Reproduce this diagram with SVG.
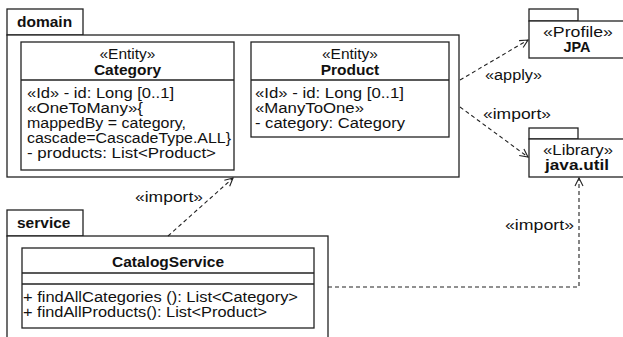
<svg xmlns="http://www.w3.org/2000/svg" width="623" height="337" viewBox="0 0 623 337">
<style>
text{font-family:"Liberation Sans",Arial,sans-serif;font-size:15.5px;fill:#111}
.b{font-weight:bold}
.c{text-anchor:middle}
.box{fill:#fff;stroke:#222;stroke-width:1.3}
.ln{fill:none;stroke:#222;stroke-width:1.3}
.dep{fill:none;stroke:#222;stroke-width:1.1;stroke-dasharray:4 3}
</style>
<defs>
<marker id="open" viewBox="0 0 10 10" refX="9" refY="5" markerWidth="10" markerHeight="10" markerUnits="userSpaceOnUse" orient="auto">
<path d="M1,1 L9,5 L1,9" fill="none" stroke="#222" stroke-width="1.1"/>
</marker>
</defs>
<rect width="623" height="337" fill="#fff"/>
<g id="domain">
<rect class="box" x="7" y="9" width="76" height="26"/>
<rect class="box" x="7" y="35" width="452" height="142"/>
<text class="b" x="17" y="27">domain</text>
</g>
<g id="Category">
<rect class="box" x="21" y="42" width="213" height="128"/>
<line class="ln" x1="21" y1="80" x2="234" y2="80"/>
<text class="c" x="127.5" y="59">«Entity»</text>
<text class="c b" x="127.5" y="75">Category</text>
<text x="27" y="98" textLength="147" lengthAdjust="spacingAndGlyphs">«Id» - id: Long [0..1]</text>
<text x="27" y="113" textLength="116" lengthAdjust="spacingAndGlyphs">«OneToMany»{</text>
<text x="27" y="128" textLength="159" lengthAdjust="spacingAndGlyphs">mappedBy = category,</text>
<text x="27" y="143" textLength="204" lengthAdjust="spacingAndGlyphs">cascade=CascadeType.ALL}</text>
<text x="27" y="158" textLength="189" lengthAdjust="spacingAndGlyphs">- products: List&lt;Product&gt;</text>
</g>
<g id="Product">
<rect class="box" x="251" y="42" width="198" height="95"/>
<line class="ln" x1="251" y1="80" x2="449" y2="80"/>
<text class="c" x="350" y="59">«Entity»</text>
<text class="c b" x="350" y="75">Product</text>
<text x="255" y="98" textLength="149" lengthAdjust="spacingAndGlyphs">«Id» - id: Long [0..1]</text>
<text x="255" y="113" textLength="109" lengthAdjust="spacingAndGlyphs">«ManyToOne»</text>
<text x="255" y="128" textLength="150" lengthAdjust="spacingAndGlyphs">- category: Category</text>
</g>
<g id="JPA">
<rect class="box" x="529" y="9" width="49" height="12"/>
<rect class="box" x="529" y="21" width="96" height="37"/>
<text class="c" x="578" y="37" textLength="70" lengthAdjust="spacingAndGlyphs">«Profile»</text>
<text class="c b" x="577" y="52" textLength="27" lengthAdjust="spacingAndGlyphs">JPA</text>
</g>
<g id="javautil">
<rect class="box" x="529" y="128" width="49" height="11"/>
<rect class="box" x="529" y="139" width="96" height="38"/>
<text class="c" x="578" y="155" textLength="70" lengthAdjust="spacingAndGlyphs">«Library»</text>
<text class="c b" x="577" y="170" textLength="64" lengthAdjust="spacingAndGlyphs">java.util</text>
</g>
<g id="service">
<rect class="box" x="7" y="210" width="76" height="26"/>
<rect class="box" x="7" y="236" width="321" height="106"/>
<text class="b" x="17" y="228">service</text>
</g>
<g id="CatalogService">
<rect class="box" x="22" y="248" width="292" height="80"/>
<line class="ln" x1="22" y1="273" x2="314" y2="273"/>
<line class="ln" x1="22" y1="284" x2="314" y2="284"/>
<text class="c b" x="168" y="267">CatalogService</text>
<text x="23" y="302" textLength="275" lengthAdjust="spacingAndGlyphs">+ findAllCategories (): List&lt;Category&gt;</text>
<text x="23" y="317" textLength="244" lengthAdjust="spacingAndGlyphs">+ findAllProducts(): List&lt;Product&gt;</text>
</g>
<g id="connectors">
<line class="dep" x1="460" y1="80" x2="528" y2="40" marker-end="url(#open)"/>
<text x="485" y="80" textLength="57" lengthAdjust="spacingAndGlyphs">«apply»</text>
<line class="dep" x1="460" y1="107" x2="528" y2="157" marker-end="url(#open)"/>
<text x="483" y="119" textLength="68" lengthAdjust="spacingAndGlyphs">«import»</text>
<line class="dep" x1="168" y1="236" x2="233" y2="178" marker-end="url(#open)"/>
<text x="135" y="202" textLength="68" lengthAdjust="spacingAndGlyphs">«import»</text>
<polyline class="dep" points="328,287 579,287 579,178" marker-end="url(#open)"/>
<text x="505" y="230" textLength="69" lengthAdjust="spacingAndGlyphs">«import»</text>
</g>
</svg>
